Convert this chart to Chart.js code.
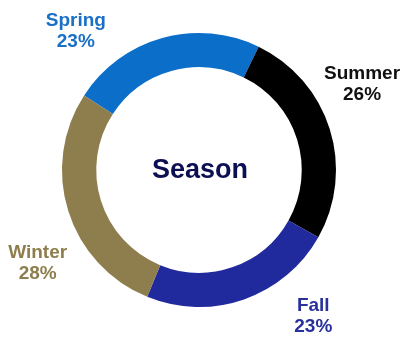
<!DOCTYPE html>
<html>
<head>
<meta charset="utf-8">
<title>Season</title>
<script src="https://cdn.jsdelivr.net/npm/chart.js@4.4.0/dist/chart.umd.min.js"></script>
<style>
  html, body { margin: 0; padding: 0; background: #fff; }
  #wrap { width: 405px; height: 338px; position: relative; }
</style>
</head>
<body>
<div id="wrap"><canvas id="seasonChart"></canvas></div>
<script>
var seasons = ["Spring", "Summer", "Fall", "Winter"];
var shares = [23, 26, 23, 28];
var sliceColors = ["#0b6fca", "#000000", "#212a9c", "#8e7e4e"];
var labelColors = ["#1a6fc6", "#111111", "#27309c", "#8e7e4e"];

// where each two-line label sits: degrees turned from the slice middle, distance from centre
var labelSpots = [
  { turn: -27, dist: 182 },
  { turn: -9, dist: 182 },
  { turn: -18, dist: 189 },
  { turn: -14, dist: 189 }
];

var FONT = "'Liberation Sans', Arial, sans-serif";

var outsideLabels = {
  id: "outsideLabels",
  afterDraw: function (chart) {
    var ctx = chart.ctx;
    var arcs = chart.getDatasetMeta(0).data;
    ctx.save();
    ctx.textAlign = "center";
    ctx.textBaseline = "alphabetic";
    ctx.font = "bold 19px " + FONT;
    arcs.forEach(function (arc, i) {
      var p = arc.getProps(["x", "y", "startAngle", "endAngle"], true);
      var a = (p.startAngle + p.endAngle) / 2 + labelSpots[i].turn * Math.PI / 180;
      var lx = p.x + Math.cos(a) * labelSpots[i].dist;
      var ly = p.y + Math.sin(a) * labelSpots[i].dist;
      ctx.fillStyle = labelColors[i];
      ctx.fillText(seasons[i], lx, ly - 10);
      ctx.fillText(shares[i] + "%", lx, ly + 11);
    });

    // title in the hole
    var c = arcs[0].getProps(["x", "y"], true);
    ctx.font = "bold 27px " + FONT;
    ctx.textBaseline = "middle";
    ctx.fillStyle = "#0c1052";
    ctx.fillText("Season", c.x + 1, c.y + 1);
    ctx.restore();
  }
};

new Chart("seasonChart", {
  type: "doughnut",
  data: {
    labels: seasons,
    datasets: [{
      data: shares,
      backgroundColor: sliceColors,
      borderWidth: 0
    }]
  },
  options: {
    responsive: true,
    maintainAspectRatio: false,
    animation: false,
    rotation: -57,
    cutout: "75%",
    layout: { padding: { left: 62, right: 69, top: 33, bottom: 31 } },
    plugins: {
      legend: { display: false },
      tooltip: { enabled: false }
    }
  },
  plugins: [outsideLabels]
});
</script>
</body>
</html>
